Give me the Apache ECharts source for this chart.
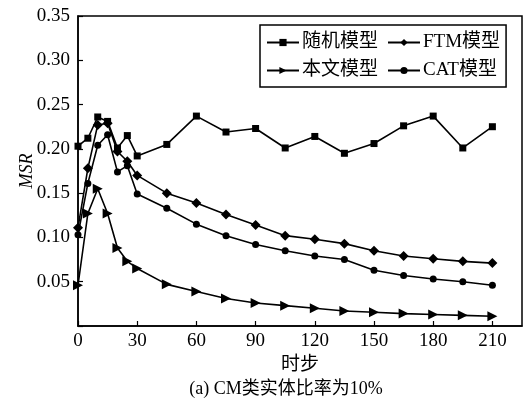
<!DOCTYPE html>
<html>
<head>
<meta charset="utf-8">
<script src="https://cdn.jsdelivr.net/npm/echarts@6/dist/echarts.min.js"></script>
<style>
  html, body { margin: 0; padding: 0; background: #fff; }
  #chart { width: 528px; height: 403px; }
</style>
</head>
<body>
<div id="chart"></div>
<script>
const steps = [0, 5, 10, 15, 20, 25, 30, 45, 60, 75, 90, 105, 120, 135, 150, 165, 180, 195, 210];
const randomModel = [0.203, 0.212, 0.236, 0.231, 0.201, 0.215, 0.192, 0.205, 0.237, 0.219, 0.223, 0.201, 0.214, 0.195, 0.206, 0.226, 0.237, 0.201, 0.225];
const ftmModel = [0.111, 0.178, 0.227, 0.229, 0.197, 0.186, 0.170, 0.150, 0.139, 0.126, 0.114, 0.102, 0.098, 0.093, 0.085, 0.079, 0.076, 0.073, 0.071];
const ourModel = [0.046, 0.127, 0.155, 0.127, 0.088, 0.073, 0.065, 0.047, 0.039, 0.031, 0.026, 0.023, 0.020, 0.017, 0.0155, 0.014, 0.013, 0.012, 0.011];
const catModel = [0.103, 0.161, 0.204, 0.216, 0.174, 0.181, 0.149, 0.133, 0.115, 0.102, 0.092, 0.085, 0.079, 0.075, 0.063, 0.057, 0.053, 0.050, 0.046];
const names = ["随机模型", "FTM模型", "本文模型", "CAT模型"];

const font = "'Liberation Serif', 'Noto Sans CJK SC', serif";
const pair = (ys) => steps.map((x, i) => [x, ys[i]]);

function line(name, ys, symbol, size, rotate) {
  return {
    name: name,
    type: "line",
    data: pair(ys),
    symbol: symbol,
    symbolSize: size,
    symbolRotate: rotate || 0,
    lineStyle: { color: "#000", width: 1.6 },
    itemStyle: { color: "#000" },
    z: 3,
  };
}

const chart = echarts.init(document.getElementById("chart"));
chart.setOption({
  animation: false,
  textStyle: { fontFamily: font, color: "#000" },
  title: {
    text: "(a) CM类实体比率为10%",
    left: 281,
    textAlign: "center",
    top: 375,
    textStyle: { fontFamily: font, fontSize: 18, fontWeight: "normal", color: "#000" },
  },
  grid: {
    left: 78, right: 6, top: 16, bottom: 77,
    show: true, borderColor: "#000", borderWidth: 1.5,
  },
  legend: {
    data: names,
    left: 260, top: 25, width: 256,
    orient: "horizontal",
    itemWidth: 32, itemHeight: 9, itemGap: 9,
    padding: [8, 6, 7, 6],
    borderColor: "#000", borderWidth: 1.5,
    textStyle: { fontFamily: font, fontSize: 19, color: "#000", padding: [0, 0, 0, -2] },
  },
  xAxis: {
    type: "value",
    min: 0, max: 225, interval: 30,
    name: "时步",
    nameLocation: "middle",
    nameGap: 30,
    nameTextStyle: { fontFamily: font, fontSize: 19, color: "#000" },
    axisLine: { lineStyle: { color: "#000", width: 1.5 } },
    axisTick: { inside: true, length: 5, lineStyle: { color: "#000", width: 1.2 } },
    axisLabel: { showMaxLabel: false, margin: 6, fontSize: 19, fontFamily: font, color: "#000" },
    splitLine: { show: false },
  },
  yAxis: {
    type: "value",
    min: 0, max: 0.35, interval: 0.05,
    name: "MSR",
    nameLocation: "middle",
    nameGap: 42,
    nameMoveOverlap: false,
    nameTextStyle: { fontFamily: font, fontSize: 18, fontStyle: "italic", color: "#000" },
    axisLine: { show: true, lineStyle: { color: "#000", width: 1.5 } },
    axisTick: { show: true, inside: true, length: 5, lineStyle: { color: "#000", width: 1.2 } },
    axisLabel: {
      margin: 8, fontSize: 19, fontFamily: font, color: "#000",
      formatter: (v) => (v === 0 ? "" : v.toFixed(2)),
    },
    splitLine: { show: false },
  },
  series: [
    line(names[0], randomModel, "rect", 7),
    line(names[1], ftmModel, "diamond", 10),
    line(names[2], ourModel, "triangle", 10, -90),
    line(names[3], catModel, "circle", 7),
  ],
});
</script>
</body>
</html>
